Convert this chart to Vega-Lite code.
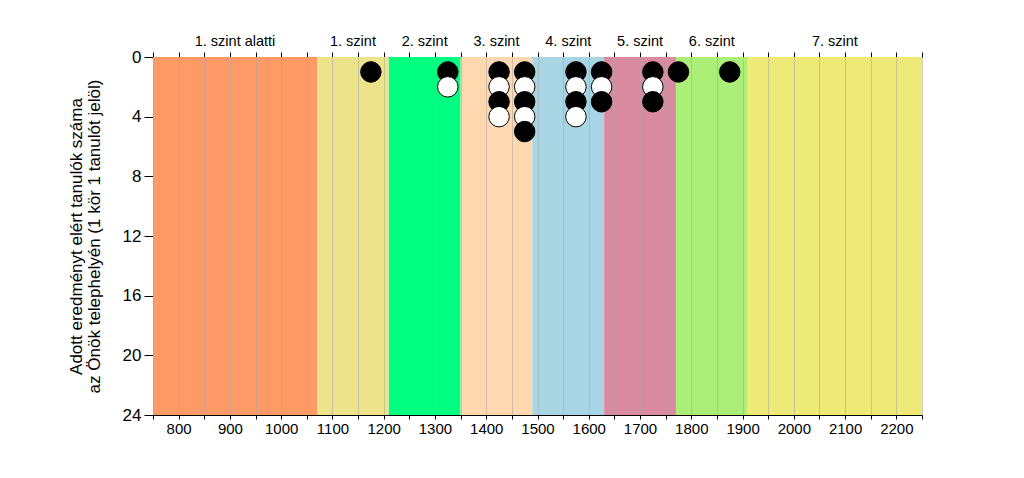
{
  "$schema": "https://vega.github.io/schema/vega-lite/v6.json",
  "autosize": {"type": "none"},
  "padding": {"left": 153, "top": 57, "right": 102, "bottom": 63},
  "width": 769,
  "height": 358,
  "background": "white",
  "config": {
    "view": {"stroke": null},
    "font": "Liberation Sans",
    "axis": {"domainColor": "black", "tickColor": "black", "labelColor": "black", "titleColor": "black", "labelFont": "Liberation Sans", "titleFont": "Liberation Sans", "titleFontWeight": "normal"}
  },
  "datasets": {
    "bands": [
      {"level": "1. szint alatti", "start": 750, "end": 1070, "mid": 910},
      {"level": "1. szint", "start": 1070, "end": 1210, "mid": 1140},
      {"level": "2. szint", "start": 1210, "end": 1350, "mid": 1280},
      {"level": "3. szint", "start": 1350, "end": 1490, "mid": 1420},
      {"level": "4. szint", "start": 1490, "end": 1630, "mid": 1560},
      {"level": "5. szint", "start": 1630, "end": 1770, "mid": 1700},
      {"level": "6. szint", "start": 1770, "end": 1910, "mid": 1840},
      {"level": "7. szint", "start": 1910, "end": 2250, "mid": 2080}
    ],
    "students": [
      {"score": 1175, "count": 1, "kind": "fekete"},
      {"score": 1325, "count": 1, "kind": "fekete"},
      {"score": 1325, "count": 2, "kind": "fehér"},
      {"score": 1425, "count": 1, "kind": "fekete"},
      {"score": 1425, "count": 2, "kind": "fehér"},
      {"score": 1425, "count": 3, "kind": "fekete"},
      {"score": 1425, "count": 4, "kind": "fehér"},
      {"score": 1475, "count": 1, "kind": "fekete"},
      {"score": 1475, "count": 2, "kind": "fehér"},
      {"score": 1475, "count": 3, "kind": "fekete"},
      {"score": 1475, "count": 4, "kind": "fehér"},
      {"score": 1475, "count": 5, "kind": "fekete"},
      {"score": 1575, "count": 1, "kind": "fekete"},
      {"score": 1575, "count": 2, "kind": "fehér"},
      {"score": 1575, "count": 3, "kind": "fekete"},
      {"score": 1575, "count": 4, "kind": "fehér"},
      {"score": 1625, "count": 1, "kind": "fekete"},
      {"score": 1625, "count": 2, "kind": "fehér"},
      {"score": 1625, "count": 3, "kind": "fekete"},
      {"score": 1725, "count": 1, "kind": "fekete"},
      {"score": 1725, "count": 2, "kind": "fehér"},
      {"score": 1725, "count": 3, "kind": "fekete"},
      {"score": 1775, "count": 1, "kind": "fekete"},
      {"score": 1875, "count": 1, "kind": "fekete"}
    ]
  },
  "layer": [
    {
      "data": {"name": "bands"},
      "mark": {"type": "rect"},
      "encoding": {
        "x": {
          "field": "start", "type": "quantitative",
          "scale": {"domain": [750, 2250], "nice": false, "zero": false},
          "axis": {
            "orient": "bottom", "title": null,
            "values": [750, 800, 850, 900, 950, 1000, 1050, 1100, 1150, 1200, 1250, 1300, 1350, 1400, 1450, 1500, 1550, 1600, 1650, 1700, 1750, 1800, 1850, 1900, 1950, 2000, 2050, 2100, 2150, 2200, 2250],
            "labelExpr": "datum.value % 100 === 0 ? datum.value : ''",
            "labelFontSize": 15, "tickSize": 4, "labelPadding": 2,
            "grid": true, "gridColor": "#a8a8a8", "gridOpacity": 0.55, "zindex": 1,
            "labelFlush": false, "labelOverlap": false
          }
        },
        "x2": {"field": "end"},
        "color": {
          "field": "level", "type": "nominal", "legend": null,
          "scale": {
            "domain": ["1. szint alatti", "1. szint", "2. szint", "3. szint", "4. szint", "5. szint", "6. szint", "7. szint"],
            "range": ["#FF9966", "#EDE38A", "#00FF80", "#FFD8B0", "#A8D5E3", "#D98AA0", "#ABEE78", "#EEEA78"]
          }
        },
        "y": {
          "datum": 0, "type": "quantitative",
          "scale": {"domain": [0, 24], "reverse": true, "nice": false},
          "axis": {
            "orient": "left",
            "values": [0, 4, 8, 12, 16, 20, 24],
            "title": ["Adott eredményt elért tanulók száma", "az Önök telephelyén (1 kör 1 tanulót jelöl)"],
            "titleFontSize": 17, "labelFontSize": 17, "tickSize": 9, "labelPadding": 3,
            "titlePadding": 19, "grid": false, "titleLineHeight": 18
          }
        },
        "y2": {"datum": 24}
      }
    },
    {
      "data": {"name": "students"},
      "mark": {"type": "point", "shape": "circle", "filled": true, "size": 420, "stroke": "black", "strokeWidth": 1, "opacity": 1},
      "encoding": {
        "x": {
          "field": "score", "type": "quantitative",
          "axis": {
            "orient": "top", "title": null,
            "values": [750, 800, 850, 900, 950, 1000, 1050, 1100, 1150, 1200, 1250, 1300, 1350, 1400, 1450, 1500, 1550, 1600, 1650, 1700, 1750, 1800, 1850, 1900, 1950, 2000, 2050, 2100, 2150, 2200, 2250],
            "labels": false, "tickSize": 5, "grid": false
          }
        },
        "y": {"field": "count", "type": "quantitative"},
        "fill": {
          "field": "kind", "type": "nominal", "legend": null,
          "scale": {"domain": ["fekete", "fehér"], "range": ["black", "white"]}
        }
      }
    },
    {
      "data": {"name": "bands"},
      "mark": {"type": "text", "fontSize": 14.5, "color": "black", "baseline": "middle", "align": "center"},
      "encoding": {
        "x": {"field": "mid", "type": "quantitative", "axis": null},
        "y": {"datum": -1, "type": "quantitative"},
        "text": {"field": "level"}
      }
    }
  ],
  "resolve": {"axis": {"x": "independent"}}
}
